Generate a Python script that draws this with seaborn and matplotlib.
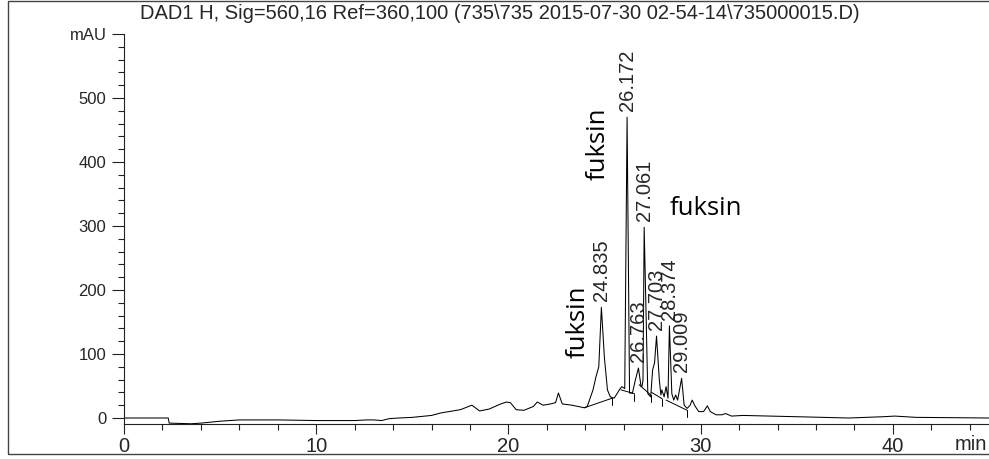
import numpy as np
import pandas as pd
import matplotlib
matplotlib.use("Agg")
import matplotlib.pyplot as plt
import matplotlib.patches as mpatches
from matplotlib.ticker import MultipleLocator, FixedLocator, FixedFormatter
import seaborn as sns

# ---- data ----
time_min = [0.0, 2.3, 2.35, 3.5, 4.0, 5.0, 6.0, 8.0, 10.0, 12.0, 12.6, 13.0, 13.4, 13.8,
            14.3, 15.0, 16.0, 16.5, 17.5, 18.1, 18.5, 19.0, 19.6, 19.9, 20.1, 20.4, 20.8,
            21.3, 21.5, 21.8, 22.2, 22.45, 22.6, 22.8, 23.3, 23.95, 24.1, 24.4, 24.55, 24.7,
            24.835, 24.99, 25.15, 25.3, 25.5, 25.67, 25.77, 25.9, 26.05, 26.172, 26.3, 26.45,
            26.6, 26.763, 26.9, 26.95, 27.0, 27.061, 27.25, 27.4, 27.5, 27.6, 27.703, 27.85,
            27.93, 27.98, 28.1, 28.2, 28.3, 28.374, 28.5, 28.6, 28.7, 28.8, 28.85, 29.009,
            29.14, 29.3, 29.45, 29.56, 29.7, 29.9, 30.15, 30.35, 30.5, 30.8, 31.1, 31.3, 31.6,
            32.2, 35.0, 37.7, 39.5, 40.1, 41.2, 45.0]
signal_mau = [0, 0, -8, -9, -8, -5, -3, -3, -4, -4, -3, -3, -4, -1,
              0, 1, 4, 8, 13, 20, 11, 14, 22, 25, 24, 13, 12,
              18, 25, 20, 22, 24, 39, 22, 20, 16, 18, 44, 64, 80,
              173, 95, 44, 33, 31, 39, 44, 49, 46, 470, 39, 39,
              59, 78, 49, 50, 59, 298, 38, 33, 75, 86, 128, 59,
              36, 44, 33, 49, 31, 144, 38, 28, 36, 28, 36, 62,
              20, 15, 20, 28, 19, 10, 10, 19, 10, 5, 5, 7, 3,
              4, 2, 0, 2, 3, 1, 0]

# integration baselines (start time, start value, end time, end value)
base_t0 = [23.95, 25.85, 26.8, 27.45, 28.2]
base_v0 = [16, 44, 52, 40, 28]
base_t1 = [25.4, 26.55, 27.4, 28.0, 29.3]
base_v1 = [31, 38, 36, 30, 12]

peak_times = [24.835, 26.172, 26.763, 27.061, 27.703, 28.374, 29.009]
peak_labels = ["24.835", "26.172", "26.763", "27.061", "27.703", "28.374", "29.009"]

title = r"DAD1 H, Sig=560,16 Ref=360,100 (735\735 2015-07-30 02-54-14\735000015.D)"

sns.set_style("ticks")
plt.rcParams['font.family'] = ['Liberation Sans', 'DejaVu Sans']

W, H = 989, 459
fig = plt.figure(figsize=(W / 100, H / 100), dpi=100)
ax = fig.add_axes([124 / W, 1 - 424.4 / H, 1 - 124 / W, (424.4 - 34) / H])

df = pd.DataFrame({"t": time_min, "v": signal_mau})
sns.lineplot(data=df, x="t", y="v", ax=ax, color="black", linewidth=0.75,
             estimator=None, sort=False)

# baselines and their end ticks
for t0, v0, t1, v1 in zip(base_t0, base_v0, base_t1, base_v1):
    ax.plot([t0, t1], [v0, v1], color="black", linewidth=0.7)
    ax.plot([t1, t1], [v1, v1 - 11], color="black", linewidth=0.7)

# peak labels
for pt, lab in zip(peak_times, peak_labels):
    h = np.interp(pt, time_min, signal_mau)
    ax.annotate(lab, xy=(pt, h), xytext=(0, 4.5), textcoords="offset points",
                rotation=90, ha="center", va="bottom", fontsize=14.5)

# compound annotations
fk = dict(family=["Open Sans", "DejaVu Sans"], fontsize=18.5, color="black")
ax.text(24.65, 372, "fuksin", rotation=90, ha="center", va="bottom", **fk)
ax.text(23.6, 94, "fuksin", rotation=90, ha="center", va="bottom", **fk)
ax.text(28.36, 328, "fuksin", rotation=0, ha="left", va="center", **fk)

ax.set_xlim(0, 45)
ax.set_ylim(-10, 600)
ax.set_xlabel("")
ax.set_ylabel("")

ax.xaxis.set_major_locator(FixedLocator([0, 10, 20, 30, 40]))
ax.xaxis.set_minor_locator(MultipleLocator(2))
ax.yaxis.set_major_locator(FixedLocator([0, 100, 200, 300, 400, 500, 600]))
ax.yaxis.set_major_formatter(FixedFormatter(["0", "100", "200", "300", "400", "500", "mAU"]))
ax.yaxis.set_minor_locator(MultipleLocator(20))

ax.tick_params(axis="x", which="major", length=7.2, width=0.8, labelsize=14.5, pad=2, color="#222")
ax.tick_params(axis="x", which="minor", length=4.3, width=0.8, color="#222")
ax.tick_params(axis="y", which="major", length=8.6, width=0.8, labelsize=12, pad=4, color="#222")
ax.tick_params(axis="y", which="minor", length=4.3, width=0.8, color="#222")

for s in ["top", "right"]:
    ax.spines[s].set_visible(False)
for s in ["left", "bottom"]:
    ax.spines[s].set_linewidth(0.8)
    ax.spines[s].set_color("#222")

fig.text(500 / W, 1 - 13.5 / H, title, ha="center", va="center", fontsize=14.5)
fig.text(971 / W, 1 - 444 / H, "min", ha="center", va="center", fontsize=14.5)

frame = mpatches.Rectangle((8 / W, 1 - 454 / H), 1.0, (453) / H,
                           transform=fig.transFigure, fill=False,
                           edgecolor="#444", linewidth=1.0)
fig.patches.append(frame)

fig.savefig("out.png", dpi=100)
